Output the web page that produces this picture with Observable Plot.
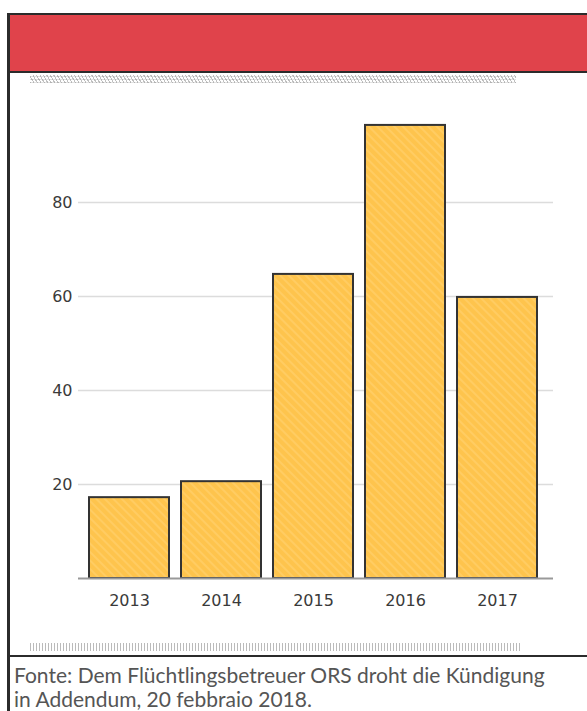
<!DOCTYPE html>
<html>
<head>
<meta charset="utf-8">
<script src="https://cdn.jsdelivr.net/npm/d3@7"></script>
<script src="https://cdn.jsdelivr.net/npm/@observablehq/plot@0.6"></script>
<style>
  html, body { margin: 0; padding: 0; background: #fff; width: 587px; height: 711px; overflow: hidden; }
  #frame { position: absolute; left: 7px; top: 13px; width: 640px; height: 760px;
           border-left: 3px solid #2b2b2b; border-top: 2px solid #2b2b2b; box-sizing: border-box; }
  #header { position: absolute; left: 10px; top: 15px; width: 600px; height: 56px; background: #e0434b;
            border-bottom: 2px solid #2b2b2b; }
  .stripe { position: absolute; height: 8px; }
  #stripeTop { left: 30px; top: 75px; width: 486px;
            background:
              repeating-linear-gradient(60deg, rgba(140,140,140,0.55) 0 1px, rgba(255,255,255,0) 1px 3px),
              repeating-linear-gradient(0deg, rgba(170,170,170,0.35) 0 1px, rgba(255,255,255,0) 1px 3px); }
  #stripeBot { left: 30px; top: 643px; width: 490px;
            background: repeating-linear-gradient(90deg, rgba(150,150,150,0.65) 0 1px, rgba(255,255,255,0) 1px 3px); }
  #botLine { position: absolute; left: 10px; top: 655px; width: 600px; height: 2px; background: #2b2b2b; }
  #chart { position: absolute; left: 0; top: 90px; }
  .cap { position: absolute; left: 14px; width: 573px; font-family: Lato, sans-serif;
         font-size: 21px; line-height: 24px; height: 24px; color: #555; white-space: nowrap; }
  #cap1 { top: 663px; }
  #cap2 { top: 687px; }
</style>
</head>
<body>
<div id="frame"></div>
<div id="header"></div>
<div class="stripe" id="stripeTop"></div>
<div id="chart"></div>
<div class="stripe" id="stripeBot"></div>
<div id="botLine"></div>
<div class="cap" id="cap1">Fonte: Dem Flüchtlingsbetreuer ORS droht die Kündigung</div>
<div class="cap" id="cap2">in Addendum, 20 febbraio 2018.</div>
<script>
const years = ["2013", "2014", "2015", "2016", "2017"];
const values = [17.2, 20.6, 64.7, 96.4, 59.8];
const yTicks = [20, 40, 60, 80];

const data = years.map((y, i) => ({year: y, value: values[i]}));

const chart = Plot.plot({
  width: 587,
  height: 530,
  marginLeft: 78,
  marginRight: 34,
  marginTop: 18,
  marginBottom: 42,
  style: {fontFamily: "DejaVu Sans, sans-serif", fontSize: "16px", color: "#3a3a3a", background: "transparent"},
  x: {domain: years, paddingInner: 0.135, paddingOuter: 0.1, insetRight: 6, label: null},
  y: {domain: [0, 100], ticks: yTicks, label: null},
  marks: [
    Plot.ruleY(yTicks, {stroke: "#dcdcdc", strokeWidth: 1.5}),
    Plot.axisY({ticks: yTicks, tickSize: 0, tickPadding: 6, label: null, fill: "#3a3a3a", stroke: "#3a3a3a", strokeWidth: 0.3}),
    Plot.axisX({tickSize: 0, tickPadding: 16, label: null, fill: "#3a3a3a", stroke: "#3a3a3a", strokeWidth: 0.3}),
    Plot.barY(data, {x: "year", y: "value", fill: "url(#hatch)", stroke: "#333", strokeWidth: 2}),
    Plot.ruleY([0], {stroke: "#999", strokeWidth: 2})
  ]
});

const ns = "http://www.w3.org/2000/svg";
const defs = document.createElementNS(ns, "defs");
defs.innerHTML = `<pattern id="hatch" patternUnits="userSpaceOnUse" width="6" height="6" patternTransform="rotate(-45)">
  <rect width="6" height="6" fill="#fec44d"></rect>
  <rect width="2" height="6" fill="#ffcc62"></rect>
</pattern>`;
chart.insertBefore(defs, chart.firstChild);
document.getElementById("chart").appendChild(chart);
</script>
</body>
</html>
